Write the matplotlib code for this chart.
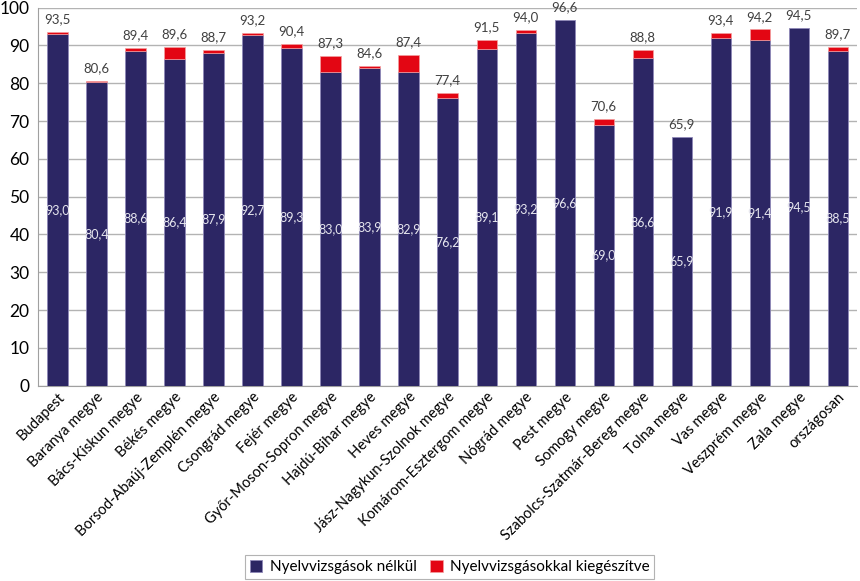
import matplotlib
matplotlib.use("Agg")
import matplotlib.pyplot as plt
import numpy as np

categories = ["Budapest", "Baranya megye", "Bács-Kiskun megye", "Békés megye",
              "Borsod-Abaúj-Zemplén megye", "Csongrád megye", "Fejér megye",
              "Győr-Moson-Sopron megye", "Hajdú-Bihar megye", "Heves megye",
              "Jász-Nagykun-Szolnok megye", "Komárom-Esztergom megye", "Nógrád megye",
              "Pest megye", "Somogy megye", "Szabolcs-Szatmár-Bereg megye", "Tolna megye",
              "Vas megye", "Veszprém megye", "Zala megye", "országosan"]
base = [93.0, 80.4, 88.6, 86.4, 87.9, 92.7, 89.3, 83.0, 83.9, 82.9, 76.2,
        89.1, 93.2, 96.6, 69.0, 86.6, 65.9, 91.9, 91.4, 94.5, 88.5]
total = [93.5, 80.6, 89.4, 89.6, 88.7, 93.2, 90.4, 87.3, 84.6, 87.4, 77.4,
         91.5, 94.0, 96.6, 70.6, 88.8, 65.9, 93.4, 94.2, 94.5, 89.7]
series_names = ["Nyelvvizsgások nélkül", "Nyelvvizsgásokkal kiegészítve"]

plt.rcParams['font.family'] = ['Lato', 'DejaVu Sans']

base_a = np.array(base)
total_a = np.array(total)
extra = total_a - base_a

fig = plt.figure(figsize=(8.6, 5.81), dpi=100)
ax = fig.add_axes([0.044, 0.336, 0.953, 0.651])
x = np.arange(len(categories))
navy = "#2C2664"
red = "#E30613"
w = 0.52
ax.bar(x, base_a, w, color=navy, edgecolor="#8E88B8", linewidth=0.6, label=series_names[0], zorder=3)
lw = [0.5 if e > 0.05 else 0 for e in extra]
ax.bar(x, extra, w, bottom=base_a, color=red, edgecolor="#F4A0A0", linewidth=lw, label=series_names[1], zorder=3)

def fmt(v):
    return f"{v:.1f}".replace(".", ",")

for i in range(len(categories)):
    ax.text(x[i], base_a[i] / 2, fmt(base_a[i]), ha="center", va="center",
            color="#E6E6EE", fontsize=9, zorder=4)
    ax.text(x[i], total_a[i] + 1.8, fmt(total_a[i]), ha="center", va="bottom",
            color="#404040", fontsize=9.5, zorder=4)

ax.set_xlim(-0.5, len(categories) - 0.5)
ax.set_ylim(0, 100)
ax.set_yticks(np.arange(0, 101, 10))
ax.tick_params(axis="y", labelsize=12.5, length=0, pad=6)
ax.tick_params(axis="x", length=0, pad=3)
ax.set_xticks(x)
ax.set_xticklabels(categories, rotation=45, ha="right", rotation_mode="anchor", fontsize=10.5)
ax.yaxis.grid(True, color="#B3B3B3", linewidth=1.0, zorder=0)
ax.set_axisbelow(True)
for s in ["top", "right"]:
    ax.spines[s].set_visible(False)
ax.spines["left"].set_color("#A0A0A0")
ax.spines["bottom"].set_color("#A0A0A0")

leg = fig.legend(loc="lower center", bbox_to_anchor=(0.523, 0.0), ncol=2, frameon=True,
                 fontsize=11, fancybox=False, edgecolor="#A0A0A0", handlelength=0.8,
                 handleheight=0.8, columnspacing=0.9, borderpad=0.3, handletextpad=0.5,
                 borderaxespad=0.15)
leg.get_frame().set_linewidth(0.8)

fig.savefig("out.png", dpi=100)
